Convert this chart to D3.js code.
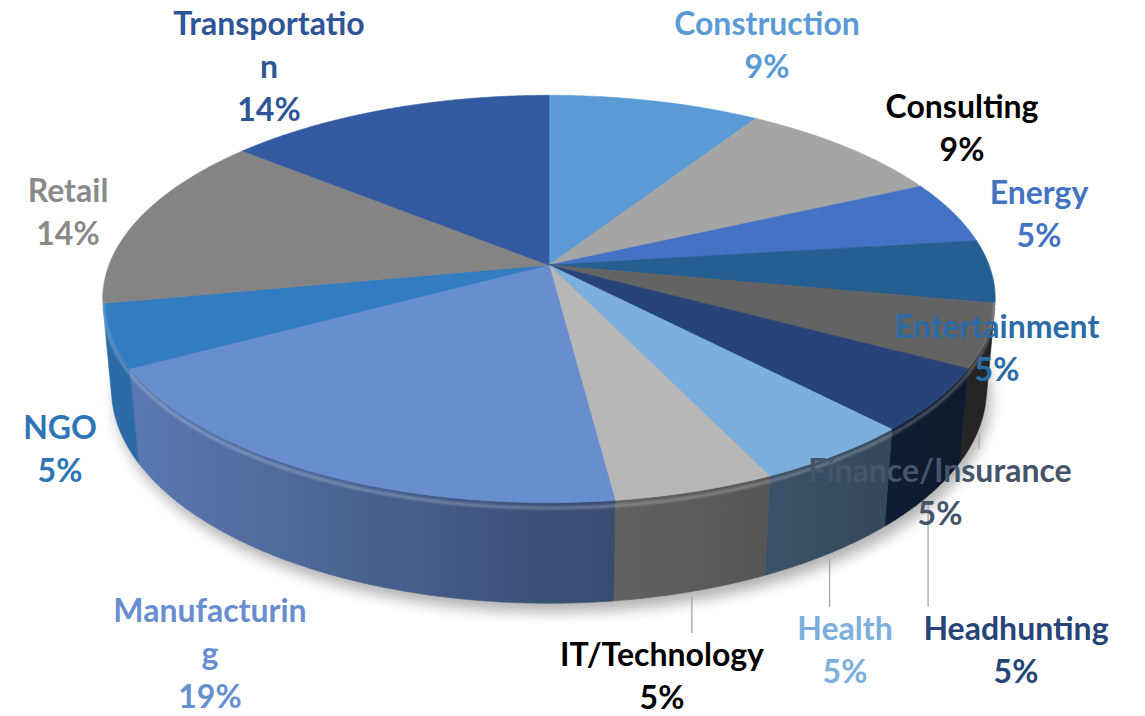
<!DOCTYPE html>
<html>
<head>
<meta charset="utf-8">
<script src="https://cdn.jsdelivr.net/npm/d3@7"></script>
<style>
  body { margin: 0; background: #fff; }
  text { font-family: Lato, "Open Sans", sans-serif; font-weight: bold; }
</style>
</head>
<body>
<div id="chart"></div>
<script>
// industries, clockwise from 12 o'clock
var categories = ["Construction", "Consulting", "Energy", "Entertainment", "Finance/Insurance",
                  "Headhunting", "Health", "IT/Technology", "Manufacturing", "NGO", "Retail", "Transportation"];
// share in percent, as printed on the labels
var shares = [9, 9, 5, 5, 5, 5, 5, 5, 19, 5, 14, 14];
// label text lines (excel wrapped the long ones by character)
var labelLines = [["Construction"], ["Consulting"], ["Energy"], ["Entertainment"], ["Finance/Insurance"],
                  ["Headhunting"], ["Health"], ["IT/Technology"], ["Manufacturin", "g"], ["NGO"], ["Retail"],
                  ["Transportatio", "n"]];

// styles
var sliceColors = ["#5B9BD5", "#A5A5A5", "#4472C4", "#255E91", "#636363", "#264478",
                   "#7CAFDD", "#B7B7B7", "#698ED0", "#327DC2", "#848484", "#335AA1"];
var labelColors = ["#5B9BD5", "#000000", "#4472C4", "#2B6CA8", "#44546A", "#264478",
                   "#7CAFDD", "#000000", "#698ED0", "#2E75B6", "#8A8A8A", "#2F5597"];
// label anchor: centre x, first baseline
var labelPos = [[767, 35], [962, 118], [1039, 204], [997, 338], [940, 482], [1016, 640],
                [845, 640], [662, 666], [210, 622], [60, 439], [68, 202], [269, 35]];
var leaderFor = ["Finance/Insurance", "Headhunting", "Health", "IT/Technology"];

var width = 1145, height = 716;

// 3d disc seen from above with a bit of perspective
var cx = 549, cy = 265,
    F = 440,             // screen radius at the centre
    sinT = 0.45, cosT = Math.sqrt(1 - 0.45 * 0.45),
    rho = 0.1867,        // radius / camera distance
    depth = 0.23;        // thickness, in radii

function project(theta, w) {
    var u = Math.sin(theta), v = -Math.cos(theta);
    var k = 1 - rho * (v * cosT + w * sinT);
    return [cx + F * u / k, cy + F * (v * sinT - w * cosT) / k];
}

function rim(a0, a1, w) {
    var n = Math.max(2, Math.ceil((a1 - a0) / 0.005));
    return d3.range(n + 1).map(function(i) { return project(a0 + (a1 - a0) * i / n, w); });
}

var line = d3.line();

var svg = d3.select("#chart").append("svg")
    .attr("width", width)
    .attr("height", height);

var defs = svg.append("defs");
defs.append("filter").attr("id", "shadow")
    .attr("x", "-20%").attr("y", "-20%").attr("width", "140%").attr("height", "140%")
    .append("feGaussianBlur").attr("stdDeviation", 7);
defs.append("filter").attr("id", "soft")
    .append("feGaussianBlur").attr("stdDeviation", 1.2);

var pie = d3.pie().sort(null).value(function(d) { return d; });
var arcs = pie(shares);
var total = d3.sum(shares);
var pct = d3.format(".0%");

// side gradients, darker to the right
arcs.forEach(function(d, i) {
    var c = d3.color(sliceColors[i]);
    var g = defs.append("linearGradient")
        .attr("id", "side" + i)
        .attr("gradientUnits", "userSpaceOnUse")
        .attr("x1", cx - F).attr("x2", cx + F).attr("y1", 0).attr("y2", 0);
    [[0, 0.4], [0.5, 1.6], [1, 2.8]].forEach(function(s) {
        g.append("stop").attr("offset", s[0]).attr("stop-color", c.darker(s[1]).formatHex());
    });
});

// soft drop shadow under the disc
svg.append("path")
    .attr("d", line(rim(0, 2 * Math.PI, -depth)) + "Z")
    .attr("transform", "translate(4,9)")
    .attr("fill", "#000")
    .attr("opacity", 0.3)
    .attr("filter", "url(#shadow)");

// visible outer wall: front facing part only
var vis0 = Math.acos(-rho / cosT), vis1 = 2 * Math.PI - vis0;

svg.append("g").attr("class", "sides")
    .selectAll("path")
    .data(arcs.filter(function(d) { return d.endAngle > vis0 && d.startAngle < vis1; }))
    .enter().append("path")
    .attr("d", function(d) {
        var a0 = Math.max(d.startAngle, vis0), a1 = Math.min(d.endAngle, vis1);
        var pts = rim(a0, a1, 0).concat(rim(a0, a1, -depth).reverse());
        return line(pts) + "Z";
    })
    .attr("fill", function(d) { return "url(#side" + d.index + ")"; })
    .attr("stroke", function(d) { return "url(#side" + d.index + ")"; })
    .attr("stroke-width", 0.6);

// top faces
svg.append("g").attr("class", "tops")
    .selectAll("path")
    .data(arcs)
    .enter().append("path")
    .attr("d", function(d) {
        return line([[cx, cy]].concat(rim(d.startAngle, d.endAngle, 0))) + "Z";
    })
    .attr("fill", function(d) { return sliceColors[d.index]; })
    .attr("stroke", function(d) { return sliceColors[d.index]; })
    .attr("stroke-width", 0.6);

// bevel highlight on the front edge
svg.append("path")
    .attr("d", line(rim(vis0 - 0.05, vis1 + 0.05, -0.012)))
    .attr("fill", "none")
    .attr("stroke", "#fff")
    .attr("stroke-opacity", 0.25)
    .attr("stroke-width", 3)
    .attr("filter", "url(#soft)");

// leader lines
var lineH = 43;
svg.append("g").attr("class", "leaders")
    .selectAll("line")
    .data(arcs.filter(function(d) { return leaderFor.indexOf(categories[d.index]) >= 0; }))
    .enter().append("line")
    .attr("x1", function(d) { return project((d.startAngle + d.endAngle) / 2, -depth)[0]; })
    .attr("x2", function(d) { return project((d.startAngle + d.endAngle) / 2, -depth)[0]; })
    .attr("y1", function(d) { return project((d.startAngle + d.endAngle) / 2, -depth)[1] + 5; })
    .attr("y2", function(d) { return labelPos[d.index][1] - 33; })
    .attr("stroke", "#A6A6A6")
    .attr("stroke-width", 1.3);

// labels
var labels = svg.append("g").attr("class", "labels")
    .selectAll("text")
    .data(arcs)
    .enter().append("text")
    .attr("text-anchor", "middle")
    .attr("font-size", 32)
    .attr("fill", function(d) { return labelColors[d.index]; });

labels.each(function(d) {
    var t = d3.select(this);
    var lines = labelLines[d.index].concat([pct(d.data / total)]);
    lines.forEach(function(s, j) {
        t.append("tspan")
            .attr("x", labelPos[d.index][0])
            .attr("y", labelPos[d.index][1] + j * lineH)
            .text(s);
    });
});
</script>
</body>
</html>
